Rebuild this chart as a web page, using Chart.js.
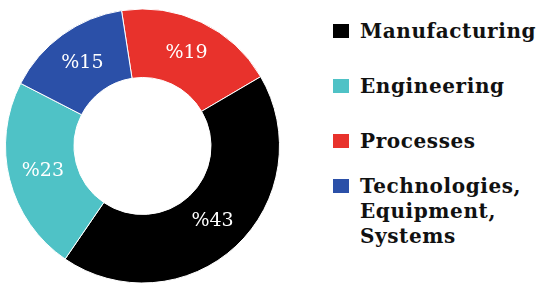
<!DOCTYPE html>
<html>
<head>
<meta charset="utf-8">
<script src="https://cdn.jsdelivr.net/npm/chart.js@4/dist/chart.umd.min.js"></script>
<style>
  html, body { margin: 0; padding: 0; background: #fff; }
  body { width: 538px; height: 285px; position: relative; overflow: hidden; }
  #wrap { position: absolute; left: 5px; top: 8px; width: 275px; height: 276px; }
  .leg { position: absolute; left: 333px; display: flex; align-items: flex-start;
         font: bold 20px "DejaVu Serif", serif; line-height: 25px; color: #111; letter-spacing: 0.6px; }
  .leg .sw { width: 16px; height: 14px; margin-top: 5px; margin-right: 11px; flex: none; }
</style>
</head>
<body>
<div id="wrap"><canvas id="donut"></canvas></div>
<div id="legend"></div>
<script>
// slices in drawing order, clockwise from just left of 12 o'clock
const labels  = ["Processes", "Manufacturing", "Engineering", "Technologies, Equipment, Systems"];
const values  = [19, 43, 23, 15];
const colours = ["#e8322c", "#000000", "#4fc2c6", "#2b50a8"];

// legend order as printed on the right
const legendOrder = [1, 2, 0, 3];
const legendLines = [["Processes"], ["Manufacturing"], ["Engineering"], ["Technologies,", "Equipment,", "Systems"]];
const legendTops  = [19, 74, 129, 174];

const sliceLabels = {
  id: "sliceLabels",
  afterDatasetsDraw(chart) {
    const { ctx } = chart;
    const meta = chart.getDatasetMeta(0);
    ctx.save();
    ctx.fillStyle = "#fff";
    ctx.font = "19px 'DejaVu Serif', serif";
    ctx.textAlign = "center";
    ctx.textBaseline = "middle";
    meta.data.forEach((arc, i) => {
      const p = arc.tooltipPosition();
      ctx.fillText("%" + values[i], p.x, p.y);
    });
    ctx.restore();
  },
};

new Chart(document.getElementById("donut"), {
  type: "doughnut",
  data: {
    labels,
    datasets: [{ data: values, backgroundColor: colours, borderColor: "#fff", borderWidth: 1 }],
  },
  options: {
    responsive: true,
    maintainAspectRatio: false,
    animation: false,
    rotation: -8.8,
    cutout: "50%",
    layout: { padding: 0 },
    plugins: { legend: { display: false }, tooltip: { enabled: false } },
  },
  plugins: [sliceLabels],
});

const legendEl = document.getElementById("legend");
legendEl.innerHTML = legendOrder.map((idx, k) => {
  return `<div class="leg" style="top:${legendTops[k]}px">
    <span class="sw" style="background:${colours[idx]}"></span>
    <span>${legendLines[idx].join("<br>")}</span>
  </div>`;
}).join("");
</script>
</body>
</html>
